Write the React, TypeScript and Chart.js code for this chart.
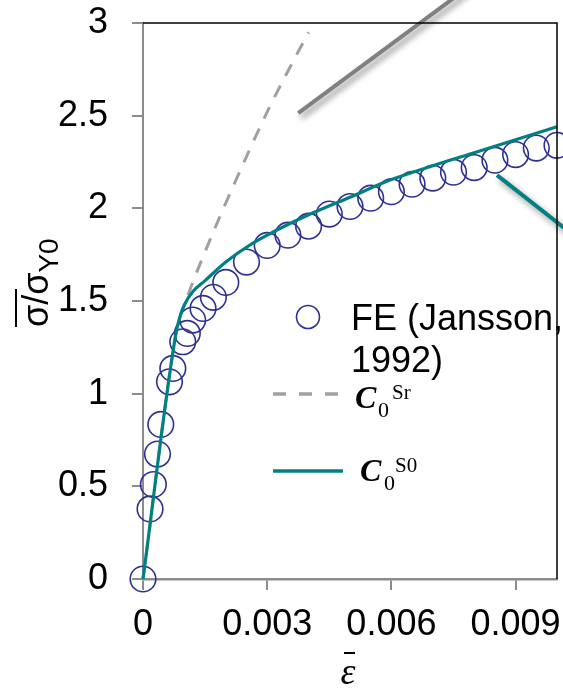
import React, { useEffect, useRef } from "react";
import { Chart, registerables } from "chart.js";

Chart.register(...registerables);

// ---- data ----
const feStrain = [0, 0.00017, 0.00025, 0.00035, 0.00043, 0.00064, 0.00072, 0.00096, 0.00107, 0.0012, 0.00145, 0.0017, 0.002, 0.0025, 0.003, 0.0035, 0.004, 0.0045, 0.005, 0.0055, 0.006, 0.0065, 0.007, 0.0075, 0.008, 0.0085, 0.009, 0.0095, 0.01];
const feStress = [0, 0.378, 0.51, 0.674, 0.834, 1.064, 1.136, 1.28, 1.325, 1.397, 1.46, 1.52, 1.6, 1.71, 1.8, 1.855, 1.904, 1.969, 2.01, 2.055, 2.09, 2.13, 2.163, 2.195, 2.22, 2.26, 2.29, 2.325, 2.34];

const s0Strain = [0, 0.0008, 0.0009, 0.001, 0.0012, 0.0015, 0.002, 0.0025, 0.003, 0.004, 0.005, 0.006, 0.007, 0.008, 0.009, 0.01];
const s0Stress = [0, 1.33, 1.42, 1.48, 1.55, 1.61, 1.71, 1.79, 1.855, 1.965, 2.06, 2.155, 2.23, 2.3, 2.37, 2.44];

const srStrain = [0, 0.0008, 0.0009, 0.001, 0.0012, 0.0016, 0.0022, 0.003, 0.0035, 0.004];
const srStress = [0, 1.33, 1.42, 1.48, 1.6, 1.82, 2.13, 2.52, 2.74, 2.95];

// callout (pointer) lines, in data units
const calloutSrStrain = [0.00375, 0.0079];
const calloutSrStress = [2.514, 3.2];
const calloutS0Strain = [0.00855, 0.01104];
const calloutS0Stress = [2.179, 1.742];

const xTickValues = [0, 0.003, 0.006, 0.009];
const xTickLabels = ["0", "0.003", "0.006", "0.009"];
const yTickValues = [0, 0.5, 1, 1.5, 2, 2.5, 3];
const yTickLabels = ["0", "0.5", "1", "1.5", "2", "2.5", "3"];

const legendFE = ["FE (Jansson,", "1992)"];

const TEAL = "#008080";
const BLUE = "#2E3192";
const DASH_GRAY = "#A0A0A0";
const AXIS_GRAY = "#8C8C8C";
const SANS = "'Liberation Sans', Arial, sans-serif";
const SERIF = "'Liberation Serif', 'Times New Roman', serif";

const toPts = (xs: number[], ys: number[]) => xs.map((v, i) => ({ x: v, y: ys[i] }));

const zeroPadding = (scale: any) => {
  scale.paddingTop = 0;
  scale.paddingBottom = 0;
  scale.paddingLeft = 0;
  scale.paddingRight = 0;
};

const decorPlugin = {
  id: "decor",
  afterDraw(chart: any) {
    const { ctx, chartArea: a, scales } = chart;
    const xs = scales.x;
    const ys = scales.y;
    ctx.save();

    // callout lines with shadow
    const callout = (px: number[], py: number[], color: string, w: number) => {
      ctx.save();
      ctx.shadowColor = "rgba(0,0,0,0.45)";
      ctx.shadowBlur = 6;
      ctx.shadowOffsetX = 3;
      ctx.shadowOffsetY = 4;
      ctx.strokeStyle = color;
      ctx.lineWidth = w;
      ctx.beginPath();
      ctx.moveTo(xs.getPixelForValue(px[0]), ys.getPixelForValue(py[0]));
      ctx.lineTo(xs.getPixelForValue(px[1]), ys.getPixelForValue(py[1]));
      ctx.stroke();
      ctx.restore();
    };
    callout(calloutSrStrain, calloutSrStress, "#808080", 4);
    callout(calloutS0Strain, calloutS0Stress, TEAL, 4);

    // legend
    const L = a.left;
    const T = a.top;
    ctx.strokeStyle = BLUE;
    ctx.lineWidth = 1.6;
    ctx.beginPath();
    ctx.arc(L + 165, T + 294, 11.5, 0, Math.PI * 2);
    ctx.stroke();

    ctx.fillStyle = "#000";
    ctx.textAlign = "left";
    ctx.textBaseline = "alphabetic";
    ctx.font = `36px ${SANS}`;
    ctx.fillText(legendFE[0], L + 208, T + 307);
    ctx.fillText(legendFE[1], L + 208, T + 349);

    ctx.strokeStyle = DASH_GRAY;
    ctx.lineWidth = 3.5;
    ctx.setLineDash([13, 13]);
    ctx.beginPath();
    ctx.moveTo(L + 130, T + 371);
    ctx.lineTo(L + 199, T + 371);
    ctx.stroke();
    ctx.setLineDash([]);

    ctx.font = `bold italic 32px ${SERIF}`;
    ctx.fillText("C", L + 212, T + 385);
    ctx.font = `22px ${SERIF}`;
    ctx.fillText("0", L + 235, T + 394);
    ctx.font = `21px ${SERIF}`;
    ctx.fillText("Sr", L + 249, T + 376);

    ctx.strokeStyle = TEAL;
    ctx.lineWidth = 3.5;
    ctx.beginPath();
    ctx.moveTo(L + 130, T + 448);
    ctx.lineTo(L + 200, T + 448);
    ctx.stroke();

    ctx.font = `bold italic 32px ${SERIF}`;
    ctx.fillText("C", L + 217, T + 458);
    ctx.font = `22px ${SERIF}`;
    ctx.fillText("0", L + 241, T + 467);
    ctx.font = `21px ${SERIF}`;
    ctx.fillText("S0", L + 252, T + 449);

    // top & right border
    ctx.strokeStyle = "#000";
    ctx.lineWidth = 1.5;
    ctx.beginPath();
    ctx.moveTo(a.left, a.top);
    ctx.lineTo(a.right, a.top);
    ctx.lineTo(a.right, a.bottom);
    ctx.stroke();

    // y axis title (rotated): σ̄/σY0
    ctx.save();
    ctx.translate(48, 327);
    ctx.rotate(-Math.PI / 2);
    ctx.fillStyle = "#000";
    ctx.font = `36px ${SANS}`;
    let u = 0;
    ctx.fillText("σ", u, 0);
    u += ctx.measureText("σ").width;
    ctx.fillText("/", u, 0);
    u += ctx.measureText("/").width;
    ctx.fillText("σ", u, 0);
    u += ctx.measureText("σ").width;
    ctx.font = `28px ${SANS}`;
    ctx.fillText("Y0", u, 10);
    ctx.strokeStyle = "#000";
    ctx.lineWidth = 2;
    ctx.beginPath();
    ctx.moveTo(0, -32);
    ctx.lineTo(38, -32);
    ctx.stroke();
    ctx.restore();

    // x axis title: ε with bar
    ctx.fillStyle = "#000";
    ctx.textAlign = "center";
    ctx.font = `italic 38px ${SERIF}`;
    ctx.fillText("ε", 348, 684);
    ctx.strokeStyle = "#000";
    ctx.lineWidth = 2;
    ctx.beginPath();
    ctx.moveTo(344, 653);
    ctx.lineTo(355, 653);
    ctx.stroke();

    ctx.restore();
  },
};

export default function App() {
  const ref = useRef<HTMLCanvasElement | null>(null);

  useEffect(() => {
    if (!ref.current) return;
    const chart = new Chart(ref.current, {
      type: "line",
      data: {
        datasets: [
          {
            label: "C0S0",
            data: toPts(s0Strain, s0Stress),
            borderColor: TEAL,
            borderWidth: 3.2,
            pointRadius: 0,
            cubicInterpolationMode: "monotone",
            fill: false,
            clip: false,
          } as any,
          {
            label: "FE (Jansson, 1992)",
            data: toPts(feStrain, feStress),
            showLine: false,
            pointRadius: 12.8,
            pointBorderColor: BLUE,
            pointBackgroundColor: "rgba(0,0,0,0)",
            pointBorderWidth: 1.6,
            clip: false,
          } as any,
          {
            label: "C0Sr",
            data: toPts(srStrain, srStress),
            borderColor: DASH_GRAY,
            borderWidth: 3,
            borderDash: [13, 11],
            pointRadius: 0,
            cubicInterpolationMode: "monotone",
            fill: false,
            clip: false,
          } as any,
        ],
      },
      options: {
        animation: false,
        responsive: false,
        events: [],
        layout: { autoPadding: false, padding: { top: 23, right: 6, left: 0, bottom: 0 } },
        plugins: {
          legend: { display: false },
          tooltip: { enabled: false },
        },
        scales: {
          x: {
            type: "linear",
            min: 0,
            max: 0.01,
            afterBuildTicks: (scale: any) => {
              scale.ticks = xTickValues.map((v) => ({ value: v }));
            },
            afterFit: (scale: any) => {
              scale.height = 109;
              zeroPadding(scale);
            },
            ticks: {
              autoSkip: false,
              maxRotation: 0,
              minRotation: 0,
              padding: 13,
              color: "#000",
              font: { family: SANS, size: 36 },
              callback: (v: any) => {
                const i = xTickValues.findIndex((t) => Math.abs(t - Number(v)) < 1e-9);
                return i >= 0 ? xTickLabels[i] : "";
              },
            },
            grid: {
              display: true,
              drawOnChartArea: false,
              drawTicks: true,
              tickLength: 11,
              color: AXIS_GRAY,
              lineWidth: 2,
            },
            border: { display: true, color: AXIS_GRAY, width: 2.5 },
          },
          y: {
            type: "linear",
            min: 0,
            max: 3,
            afterBuildTicks: (scale: any) => {
              scale.ticks = yTickValues.map((v) => ({ value: v }));
            },
            afterFit: (scale: any) => {
              scale.width = 143;
              zeroPadding(scale);
            },
            ticks: {
              autoSkip: false,
              padding: 24,
              color: "#000",
              font: { family: SANS, size: 36 },
              callback: (v: any) => {
                const i = yTickValues.findIndex((t) => Math.abs(t - Number(v)) < 1e-9);
                return i >= 0 ? yTickLabels[i] : "";
              },
            },
            grid: {
              display: true,
              drawOnChartArea: false,
              drawTicks: true,
              tickLength: 11,
              color: AXIS_GRAY,
              lineWidth: 2,
            },
            border: { display: true, color: AXIS_GRAY, width: 2 },
          },
        },
      } as any,
      plugins: [decorPlugin],
    });
    return () => chart.destroy();
  }, []);

  return (
    <div style={{ position: "fixed", left: 0, top: 0, width: 563, height: 688, background: "#fff" }}>
      <canvas ref={ref} width={563} height={688} style={{ display: "block", width: 563, height: 688 }} />
    </div>
  );
}
